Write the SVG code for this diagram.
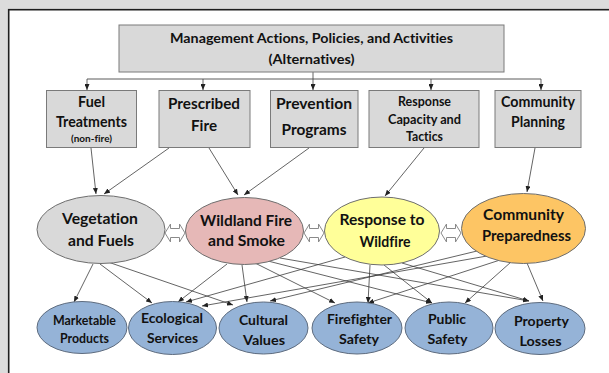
<svg xmlns="http://www.w3.org/2000/svg" xmlns:xlink="http://www.w3.org/1999/xlink" width="609" height="373" viewBox="0 0 609 373">
  <style>
    .box { fill: #d9d9d9; stroke: #7a7a7a; stroke-width: 1; }
    .t { font-family: Lato, "Liberation Sans", sans-serif; font-weight: bold; fill: #111; text-anchor: middle; font-variant-ligatures: none; }
    .link { fill: none; stroke: #3c3c3c; stroke-width: 0.8; marker-end: url(#ah); }
    .bar { fill: none; stroke: #5a5a5a; stroke-width: 1; }
    .outcome { fill: #95b3d7; stroke: #5d6b7e; stroke-width: 1; }
    .dbl { fill: #ffffff; stroke: #8a8a8a; stroke-width: 1; }
  </style>
  <defs>
    <marker id="ah" viewBox="0 0 6 5" refX="6" refY="2.5" markerWidth="6" markerHeight="5" markerUnits="userSpaceOnUse" orient="auto">
      <path d="M0,0 L6,2.5 L0,5 z" fill="#222"/>
    </marker>
    <!-- hollow two-way block arrow, 20 wide, centred on y=0 -->
    <path id="twoway" d="M0,0 L5.5,-9 L5.5,-4.5 L14.5,-4.5 L14.5,-9 L20,0 L14.5,9 L14.5,4.5 L5.5,4.5 L5.5,9 Z"/>
  </defs>

  <!-- page background and panel -->
  <rect x="0" y="0" width="609" height="373" fill="#dcdcdc"/>
  <rect x="8.7" y="9.7" width="640" height="400" fill="#ffffff" stroke="#1e1e1e" stroke-width="1.6"/>

  <!-- connectors -->
  <g id="connectors">
    <path class="bar" d="M87,79 H541"/>
    <path class="link" d="M313,72 V90"/>
    <path class="link" d="M87,79 V90"/>
    <path class="link" d="M203,79 V90"/>
    <path class="link" d="M431,79 V90"/>
    <path class="link" d="M541,79 V90"/>

    <!-- actions to drivers -->
    <path class="link" d="M91,148 L96,194"/>
    <path class="link" d="M169,148 L104,194"/>
    <path class="link" d="M209,148 L238,195"/>
    <path class="link" d="M309,148 L244,195"/>
    <path class="link" d="M424,148 L385,196"/>
    <path class="link" d="M535,148 L527,192"/>

    <!-- vegetation and fuels -->
    <path class="link" d="M93,264 L74,302"/>
    <path class="link" d="M100,264 L152,303"/>
    <path class="link" d="M108,262 L233,305"/>

    <!-- wildland fire and smoke -->
    <path class="link" d="M227,264 L178,302"/>
    <path class="link" d="M242,265 L247,302"/>
    <path class="link" d="M255,263 L335,303"/>
    <path class="link" d="M268,261 L432,303"/>
    <path class="link" d="M280,258 L529,301"/>

    <!-- response to wildfire -->
    <path class="link" d="M345,257 L186,302"/>
    <path class="link" d="M370,265 L368,303"/>
    <path class="link" d="M384,265 L432,303"/>
    <path class="link" d="M402,263 L529,301"/>

    <!-- community preparedness -->
    <path class="link" d="M487,256 L202,306"/>
    <path class="link" d="M477,251 L270,301"/>
    <path class="link" d="M500,260 L368,303"/>
    <path class="link" d="M511,262 L465,303"/>
    <path class="link" d="M527,263 L543,301"/>

    <!-- interactions between drivers -->
    <use xlink:href="#twoway" class="dbl" x="165" y="233"/>
    <use xlink:href="#twoway" class="dbl" x="304" y="233"/>
    <use xlink:href="#twoway" class="dbl" x="441" y="233"/>
  </g>

  <g id="alternatives">
    <rect class="box" x="119" y="25" width="385" height="47"/>
    <text class="t" x="311.5" y="42.5" font-size="14" textLength="283" lengthAdjust="spacingAndGlyphs">Management Actions, Policies, and Activities</text>
    <text class="t" x="311.5" y="64" font-size="14" textLength="86" lengthAdjust="spacingAndGlyphs">(Alternatives)</text>
  </g>

  <g id="fuel-treatments">
    <rect class="box" x="46.5" y="90.5" width="90" height="57"/>
    <text class="t" x="91.5" y="106.5" font-size="14.5" textLength="27" lengthAdjust="spacingAndGlyphs">Fuel</text>
    <text class="t" x="91.5" y="126.5" font-size="14.5" textLength="71" lengthAdjust="spacingAndGlyphs">Treatments</text>
    <text class="t" x="91.5" y="142" font-size="9.5" textLength="41" lengthAdjust="spacingAndGlyphs">(non-fire)</text>
  </g>

  <g id="prescribed-fire">
    <rect class="box" x="159" y="90.5" width="91" height="57"/>
    <text class="t" x="204" y="108.5" font-size="15" textLength="72" lengthAdjust="spacingAndGlyphs">Prescribed</text>
    <text class="t" x="204" y="130.5" font-size="15" textLength="26" lengthAdjust="spacingAndGlyphs">Fire</text>
  </g>

  <g id="prevention-programs">
    <rect class="box" x="270.5" y="90.5" width="87.5" height="57"/>
    <text class="t" x="314" y="108.5" font-size="15" textLength="76" lengthAdjust="spacingAndGlyphs">Prevention</text>
    <text class="t" x="314" y="134.5" font-size="15" textLength="65" lengthAdjust="spacingAndGlyphs">Programs</text>
  </g>

  <g id="response-capacity">
    <rect class="box" x="369" y="90.5" width="110" height="57"/>
    <text class="t" x="424.5" y="106" font-size="12.5" textLength="53" lengthAdjust="spacingAndGlyphs">Response</text>
    <text class="t" x="424.5" y="123.5" font-size="12.5" textLength="73" lengthAdjust="spacingAndGlyphs">Capacity and</text>
    <text class="t" x="424.5" y="141" font-size="12.5" textLength="37" lengthAdjust="spacingAndGlyphs">Tactics</text>
  </g>

  <g id="community-planning">
    <rect class="box" x="495" y="90.5" width="86" height="57"/>
    <text class="t" x="538" y="107" font-size="14.5" textLength="74" lengthAdjust="spacingAndGlyphs">Community</text>
    <text class="t" x="538" y="126.5" font-size="14.5" textLength="54" lengthAdjust="spacingAndGlyphs">Planning</text>
  </g>

  <g id="vegetation-fuels">
    <ellipse cx="101" cy="229.5" rx="64" ry="34" fill="#d9d9d9" stroke="#6e6e6e"/>
    <text class="t" x="100" y="223.5" font-size="15.5" textLength="76" lengthAdjust="spacingAndGlyphs">Vegetation</text>
    <text class="t" x="101" y="245.5" font-size="15.5" textLength="66" lengthAdjust="spacingAndGlyphs">and Fuels</text>
  </g>

  <g id="wildland-fire-smoke">
    <ellipse cx="244.5" cy="231" rx="59" ry="33.5" fill="#e6b8b7" stroke="#6e6e6e"/>
    <text class="t" x="246" y="225.5" font-size="15.5" textLength="92" lengthAdjust="spacingAndGlyphs">Wildland Fire</text>
    <text class="t" x="246.5" y="246" font-size="15.5" textLength="77" lengthAdjust="spacingAndGlyphs">and Smoke</text>
  </g>

  <g id="response-to-wildfire">
    <ellipse cx="382" cy="231" rx="57.5" ry="34" fill="#ffff99" stroke="#6e6e6e"/>
    <text class="t" x="382" y="224.5" font-size="15.5" textLength="85" lengthAdjust="spacingAndGlyphs">Response to</text>
    <text class="t" x="385" y="246.5" font-size="15.5" textLength="51" lengthAdjust="spacingAndGlyphs">Wildfire</text>
  </g>

  <g id="community-preparedness">
    <ellipse cx="523.5" cy="228.5" rx="62" ry="35" fill="#fdc564" stroke="#6e6e6e"/>
    <text class="t" x="523.5" y="219.5" font-size="15.5" textLength="81" lengthAdjust="spacingAndGlyphs">Community</text>
    <text class="t" x="526.5" y="240.5" font-size="15.5" textLength="89" lengthAdjust="spacingAndGlyphs">Preparedness</text>
  </g>

  <g id="marketable-products">
    <ellipse class="outcome" cx="82" cy="327.5" rx="45" ry="26"/>
    <text class="t" x="84.5" y="325" font-size="13" textLength="63" lengthAdjust="spacingAndGlyphs">Marketable</text>
    <text class="t" x="84.5" y="342.5" font-size="13" textLength="49" lengthAdjust="spacingAndGlyphs">Products</text>
  </g>

  <g id="ecological-services">
    <ellipse class="outcome" cx="172.5" cy="328" rx="44" ry="26.5"/>
    <text class="t" x="172" y="322.5" font-size="13.5" textLength="62" lengthAdjust="spacingAndGlyphs">Ecological</text>
    <text class="t" x="172.5" y="342.5" font-size="13.5" textLength="51" lengthAdjust="spacingAndGlyphs">Services</text>
  </g>

  <g id="cultural-values">
    <ellipse class="outcome" cx="263.5" cy="328" rx="44.5" ry="26"/>
    <text class="t" x="263.5" y="324.5" font-size="14" textLength="49" lengthAdjust="spacingAndGlyphs">Cultural</text>
    <text class="t" x="264" y="345" font-size="14" textLength="42" lengthAdjust="spacingAndGlyphs">Values</text>
  </g>

  <g id="firefighter-safety">
    <ellipse class="outcome" cx="357" cy="328" rx="45" ry="26"/>
    <text class="t" x="359.5" y="323.5" font-size="14" textLength="65" lengthAdjust="spacingAndGlyphs">Firefighter</text>
    <text class="t" x="359" y="344" font-size="14" textLength="40" lengthAdjust="spacingAndGlyphs">Safety</text>
  </g>

  <g id="public-safety">
    <ellipse class="outcome" cx="449" cy="328" rx="44" ry="26"/>
    <text class="t" x="447" y="323.5" font-size="14" textLength="38" lengthAdjust="spacingAndGlyphs">Public</text>
    <text class="t" x="447.5" y="344" font-size="14" textLength="40" lengthAdjust="spacingAndGlyphs">Safety</text>
  </g>

  <g id="property-losses">
    <ellipse class="outcome" cx="540" cy="328.5" rx="45" ry="26"/>
    <text class="t" x="541.5" y="326" font-size="14" textLength="55" lengthAdjust="spacingAndGlyphs">Property</text>
    <text class="t" x="540.5" y="346" font-size="14" textLength="42" lengthAdjust="spacingAndGlyphs">Losses</text>
  </g>
</svg>
